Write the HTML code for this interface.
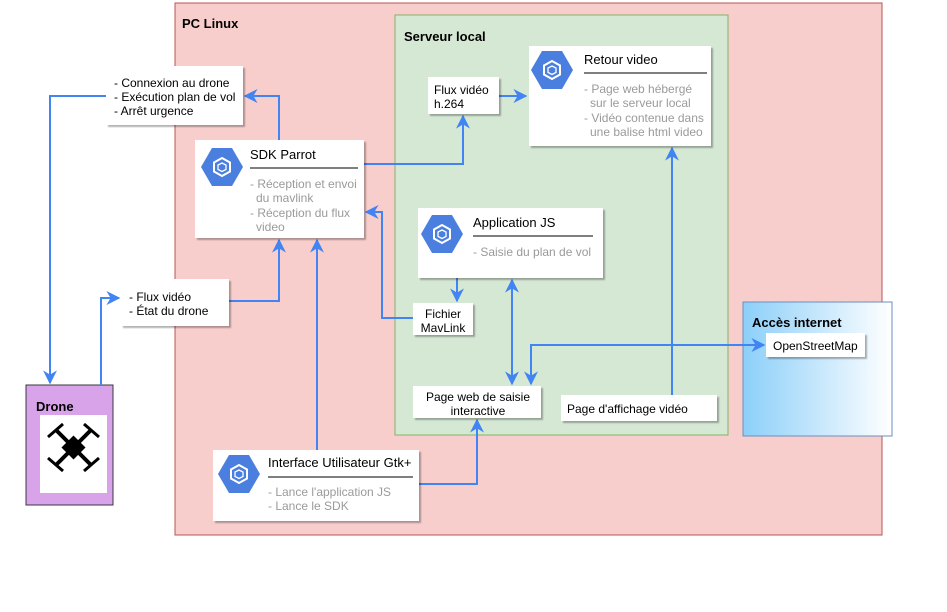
<!DOCTYPE html>
<html><head><meta charset="utf-8"><style>
body{margin:0;background:#fff;}
svg{display:block;font-family:"Liberation Sans",sans-serif;}
</style></head><body>
<svg width="947" height="612" viewBox="0 0 947 612" xmlns="http://www.w3.org/2000/svg">
<defs>
<linearGradient id="g" x1="0" x2="1" y1="0" y2="0"><stop offset="0" stop-color="#8ccff9"/><stop offset="1" stop-color="#ffffff"/></linearGradient>
<marker id="a" viewBox="0 0 10 10" refX="9" refY="5" markerWidth="7" markerHeight="7" orient="auto-start-reverse"><path d="M0,0 L10,5 L0,10 L3,5 z" fill="#4284f3"/></marker>
<filter id="s" x="-10%" y="-10%" width="130%" height="140%"><feDropShadow dx="2" dy="2" stdDeviation="0.8" flood-color="#000" flood-opacity="0.3"/></filter>
<g id="hex"><polygon points="-21,0 -10,-19 10,-19 21,0 10,19 -10,19" fill="#4a7fe0"/><polygon points="0,-9 8,-4.5 8,4.5 0,9 -8,4.5 -8,-4.5" fill="none" stroke="#fff" stroke-width="2"/><polygon points="0,-4 4,-2 4,2.5 0,4.5 -4,2.5 -4,-2" fill="none" stroke="#fff" stroke-width="1.3"/></g>
</defs>
<rect x="175" y="3" width="707" height="532" fill="#f8cecc" stroke="#b85450"/>
<text x="182" y="28" font-size="13" font-weight="bold">PC Linux</text>
<rect x="395" y="15" width="333" height="420" fill="#d5e8d4" stroke="#82b366"/>
<text x="404" y="41" font-size="13" font-weight="bold">Serveur local</text>
<rect x="743" y="302" width="149" height="134" fill="url(#g)" stroke="#6c8ebf"/>
<text x="752" y="327" font-size="13" font-weight="bold">Accès internet</text>
<rect x="26" y="385" width="87" height="120" fill="#d9a3ea" stroke="#36393d"/>
<text x="36" y="411" font-size="13" font-weight="bold">Drone</text>
<rect x="40" y="415" width="67" height="78" fill="#fff"/>
<g stroke="#000" stroke-width="4"><line x1="56" y1="430" x2="91" y2="465"/><line x1="91" y1="430" x2="56" y2="465"/></g>
<rect x="65" y="439" width="17" height="17" fill="#000" transform="rotate(45 73.5 447.5)"/>
<g stroke="#000" stroke-width="3"><line x1="48" y1="437" x2="63" y2="424"/><line x1="84" y1="424" x2="99" y2="437"/><line x1="48" y1="458" x2="63" y2="471"/><line x1="84" y1="471" x2="99" y2="458"/></g>

<g fill="none" stroke="#4284f3" stroke-width="2">
<path d="M106,96 H50 V383" marker-end="url(#a)"/>
<path d="M101,385 V298 H119" marker-end="url(#a)"/>
<path d="M229,301 H279 V240" marker-end="url(#a)"/>
<path d="M279,140 V96 H245" marker-end="url(#a)"/>
<path d="M364,164 H463 V116" marker-end="url(#a)"/>
<path d="M499,96 H526" marker-end="url(#a)"/>
<path d="M413,318 H382 V212 H366" marker-end="url(#a)"/>
<path d="M317,450 V240" marker-end="url(#a)"/>
<path d="M457,278 V301" marker-end="url(#a)"/>
<path d="M512,280 V384" marker-start="url(#a)" marker-end="url(#a)"/>
<path d="M764,345 H531 V384" marker-start="url(#a)" marker-end="url(#a)"/>
<path d="M672,395 V148" marker-end="url(#a)"/>
<path d="M419,484 H477 V420" marker-end="url(#a)"/>
</g>

<g filter="url(#s)" fill="#fff">
<rect x="106" y="66" width="137" height="59"/>
<rect x="195" y="140" width="169" height="98"/>
<rect x="121" y="279" width="108" height="47"/>
<rect x="428" y="77" width="71" height="37"/>
<rect x="529" y="46" width="182" height="100"/>
<rect x="418" y="208" width="185" height="70"/>
<rect x="413" y="303" width="60" height="32"/>
<rect x="413" y="386" width="128" height="32"/>
<rect x="561" y="395" width="156" height="26"/>
<rect x="766" y="333" width="99" height="24"/>
<rect x="213" y="450" width="206" height="71"/>
</g>
<g font-size="12" fill="#000">
<text x="114" y="87">- Connexion au drone</text>
<text x="114" y="101">- Exécution plan de vol</text>
<text x="114" y="115">- Arrêt urgence</text>
<text x="129" y="301">- Flux vidéo</text>
<text x="129" y="315">- État du drone</text>
<text x="434" y="94">Flux vidéo</text>
<text x="434" y="108">h.264</text>
<text x="443" y="318" text-anchor="middle">Fichier</text>
<text x="443" y="332" text-anchor="middle">MavLink</text>
<text x="478" y="401" text-anchor="middle">Page web de saisie</text>
<text x="478" y="415" text-anchor="middle">interactive</text>
<text x="567" y="413">Page d'affichage vidéo</text>
<text x="773" y="350">OpenStreetMap</text>
</g>
<use href="#hex" x="222" y="167"/>
<text x="250" y="159" font-size="13">SDK Parrot</text>
<line x1="250" y1="168" x2="358" y2="168" stroke="#333" stroke-width="1.2"/>
<g font-size="12" fill="#9a9a9a"><text x="250" y="188">- Réception et envoi</text><text x="256" y="202">du mavlink</text><text x="250" y="217">- Réception du flux</text><text x="256" y="231">video</text></g>
<use href="#hex" x="552" y="70"/>
<text x="584" y="64" font-size="13">Retour video</text>
<line x1="584" y1="73" x2="707" y2="73" stroke="#333" stroke-width="1.2"/>
<g font-size="12" fill="#9a9a9a"><text x="584" y="93">- Page web hébergé</text><text x="590" y="107">sur le serveur local</text><text x="584" y="122">- Vidéo contenue dans</text><text x="590" y="136">une balise html video</text></g>
<use href="#hex" x="442" y="234"/>
<text x="473" y="227" font-size="13">Application JS</text>
<line x1="473" y1="236" x2="593" y2="236" stroke="#333" stroke-width="1.2"/>
<text x="473" y="256" font-size="12" fill="#9a9a9a">- Saisie du plan de vol</text>
<use href="#hex" x="239" y="474"/>
<text x="268" y="467" font-size="13">Interface Utilisateur Gtk+</text>
<line x1="268" y1="477" x2="413" y2="477" stroke="#333" stroke-width="1.2"/>
<g font-size="12" fill="#9a9a9a"><text x="268" y="496">- Lance l'application JS</text><text x="268" y="510">- Lance le SDK</text></g>
</svg>
</body></html>
